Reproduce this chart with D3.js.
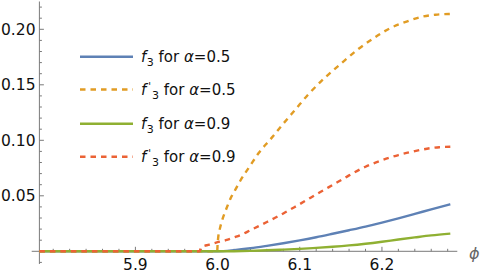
<!DOCTYPE html>
<html>
<head>
<meta charset="utf-8">
<script src="https://cdn.jsdelivr.net/npm/d3@7/dist/d3.min.js"></script>
<style>
  html, body { margin: 0; padding: 0; background: #fff; }
  svg { display: block; font-family: "DejaVu Sans", sans-serif; }
</style>
</head>
<body>
<svg id="chart" width="480" height="275"></svg>
<script>
// ---- data (phi, value) ----
const f3Alpha05 = [
  [5.7832, 0], [6.00, 0], [6.02, 0.0010], [6.04, 0.0027], [6.06, 0.0049], [6.08, 0.0073],
  [6.10, 0.0099], [6.12, 0.0127], [6.14, 0.0158], [6.16, 0.0190], [6.18, 0.0223],
  [6.20, 0.0259], [6.22, 0.0297], [6.24, 0.0337], [6.26, 0.0378], [6.2832, 0.0424]
];
const fp3Alpha05 = [
  [5.7832, 0], [5.9995, 0], [6.000, 0.006], [6.001, 0.014], [6.003, 0.021], [6.006, 0.029],
  [6.010, 0.037], [6.016, 0.048], [6.022, 0.056], [6.028, 0.064], [6.040, 0.0775],
  [6.050, 0.0885], [6.065, 0.1015], [6.080, 0.115], [6.095, 0.128], [6.110, 0.141],
  [6.130, 0.156], [6.150, 0.169], [6.170, 0.1815], [6.190, 0.192], [6.210, 0.201],
  [6.230, 0.207], [6.250, 0.2115], [6.265, 0.2131], [6.2832, 0.2138]
];
const f3Alpha09 = [
  [5.7832, 0], [6.00, 0], [6.02, 0.0001], [6.04, 0.0004], [6.06, 0.0009], [6.08, 0.0015],
  [6.10, 0.0022], [6.12, 0.0031], [6.14, 0.0041], [6.16, 0.0053], [6.18, 0.0068],
  [6.20, 0.0086], [6.22, 0.0106], [6.24, 0.0125], [6.26, 0.0143], [6.2832, 0.0159]
];
const fp3Alpha09 = [
  [5.7832, 0], [5.978, 0], [5.980, 0.0035], [5.990, 0.0060], [6.00, 0.0082], [6.01, 0.0100],
  [6.02, 0.0125], [6.03, 0.0153], [6.04, 0.0190], [6.05, 0.0227], [6.06, 0.0264],
  [6.07, 0.0302], [6.08, 0.0341], [6.09, 0.0383], [6.10, 0.0425], [6.11, 0.0469],
  [6.12, 0.0513], [6.13, 0.0555], [6.14, 0.0598], [6.15, 0.0640], [6.16, 0.0684],
  [6.17, 0.0725], [6.18, 0.0762], [6.19, 0.0793], [6.20, 0.0820], [6.21, 0.0845],
  [6.22, 0.0867], [6.23, 0.0886], [6.24, 0.0903], [6.25, 0.0918], [6.26, 0.0930],
  [6.27, 0.0938], [6.2832, 0.0942]
];
const xMajorTicks = [5.9, 6.0, 6.1, 6.2];
const xTickLabels = ["5.9", "6.0", "6.1", "6.2"];
const yMajorTicks = [0.05, 0.10, 0.15, 0.20];
const yTickLabels = ["0.05", "0.10", "0.15", "0.20"];
const legendNames = ["f3 for α=0.5", "f'3 for α=0.5", "f3 for α=0.9", "f'3 for α=0.9"];
const legendAlphas = ["0.5", "0.5", "0.9", "0.9"];
const legendPrime = [false, true, false, true];

// ---- layout ----
const svg = d3.select("#chart");
const x = d3.scaleLinear().domain([2 * Math.PI - 0.5, 2 * Math.PI]).range([39.4, 450.3]);
const y = d3.scaleLinear().domain([0, 0.2]).range([251.3, 29.3]);

const axisColor = "#7a7a7a";
const series = [
  { data: f3Alpha05, color: "#5E81B5", dash: null },
  { data: fp3Alpha05, color: "#E19C24", dash: "5.5,5" },
  { data: f3Alpha09, color: "#8FB032", dash: null },
  { data: fp3Alpha09, color: "#EB6235", dash: "5.5,5" }
];

// axes lines
const gAx = svg.append("g");
gAx.append("line").attr("x1", 31.7).attr("x2", 457.3)
  .attr("y1", y(0)).attr("y2", y(0)).attr("stroke", axisColor).attr("stroke-width", 1);
gAx.append("line").attr("x1", x.range()[0]).attr("x2", x.range()[0])
  .attr("y1", 1.5).attr("y2", 264).attr("stroke", axisColor).attr("stroke-width", 1);

// x ticks
const xMinor = d3.range(5.80, 6.2901, 0.02).filter(v => !xMajorTicks.some(m => Math.abs(m - v) < 1e-6));
gAx.selectAll(".xminor").data(xMinor).enter().append("line")
  .attr("x1", d => x(d)).attr("x2", d => x(d))
  .attr("y1", y(0)).attr("y2", y(0) - 2.5).attr("stroke", axisColor);
gAx.selectAll(".xmajor").data(xMajorTicks).enter().append("line")
  .attr("x1", d => x(d)).attr("x2", d => x(d))
  .attr("y1", y(0)).attr("y2", y(0) - 4.5).attr("stroke", axisColor);
gAx.selectAll(".xlab").data(xMajorTicks).enter().append("text")
  .attr("x", d => x(d)).attr("y", 270)
  .attr("text-anchor", "middle").attr("font-size", 15.5).attr("fill", "#111")
  .text((d, i) => xTickLabels[i]);

// y ticks
const yMinor = d3.range(-0.01, 0.2201, 0.01).filter(v => Math.abs(v) > 1e-6 && !yMajorTicks.some(m => Math.abs(m - v) < 1e-6));
gAx.selectAll(".yminor").data(yMinor).enter().append("line")
  .attr("x1", x.range()[0]).attr("x2", x.range()[0] + 2.5)
  .attr("y1", d => y(d)).attr("y2", d => y(d)).attr("stroke", axisColor);
gAx.selectAll(".ymajor").data(yMajorTicks).enter().append("line")
  .attr("x1", x.range()[0]).attr("x2", x.range()[0] + 4.5)
  .attr("y1", d => y(d)).attr("y2", d => y(d)).attr("stroke", axisColor);
gAx.selectAll(".ylab").data(yMajorTicks).enter().append("text")
  .attr("x", 35.5).attr("y", d => y(d) + 5.5)
  .attr("text-anchor", "end").attr("font-size", 15.5).attr("fill", "#111")
  .text((d, i) => yTickLabels[i]);

// axis label
svg.append("text").attr("x", 469).attr("y", 258.5)
  .attr("font-size", 16).attr("font-style", "italic").attr("fill", "#666").text("ϕ");

// curves
const line = d3.line().x(d => x(d[0])).y(d => y(d[1])).curve(d3.curveMonotoneX);
const gC = svg.append("g");
series.forEach(s => {
  gC.append("path").attr("d", line(s.data)).attr("fill", "none")
    .attr("stroke", s.color).attr("stroke-width", 2.4)
    .attr("stroke-dasharray", s.dash);
});

// legend
const legY = [56.7, 89.5, 123.7, 156.7];
const gL = svg.append("g");
series.forEach((s, i) => {
  gL.append("line").attr("x1", 80).attr("x2", 133)
    .attr("y1", legY[i]).attr("y2", legY[i])
    .attr("stroke", s.color).attr("stroke-width", 2.4).attr("stroke-dasharray", s.dash);
  const t = gL.append("text").attr("x", 141).attr("y", legY[i] + 5.4)
    .attr("font-size", 15).attr("fill", "#111");
  t.append("tspan").attr("font-style", "italic").text("f");
  if (legendPrime[i]) {
    t.append("tspan").attr("font-size", 10).attr("dx", 2).attr("dy", -5).text("'");
    t.append("tspan").attr("font-size", 11).attr("dx", 1).attr("dy", 9).text("3");
  } else {
    t.append("tspan").attr("font-size", 11).attr("dx", 0.5).attr("dy", 4).text("3");
  }
  t.append("tspan").attr("dy", -4).text(" for ");
  t.append("tspan").attr("font-style", "italic").text("α");
  t.append("tspan").text("=" + legendAlphas[i]);
});
</script>
</body>
</html>
